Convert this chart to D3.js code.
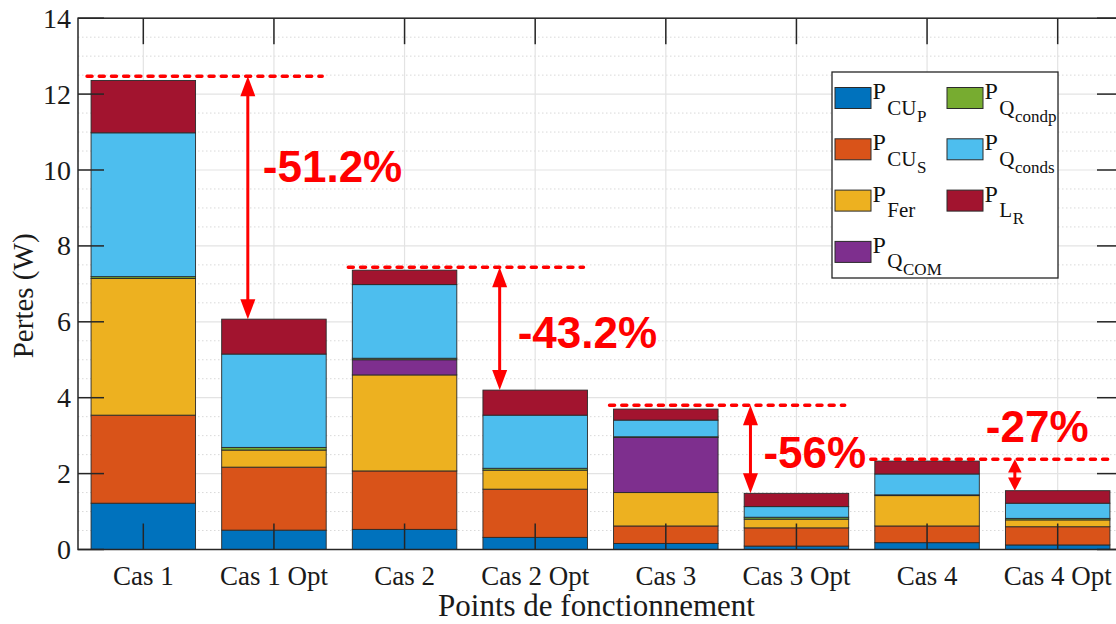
<!DOCTYPE html>
<html><head><meta charset="utf-8">
<script src="https://cdn.jsdelivr.net/npm/d3@7"></script>
<style>body{margin:0;background:#fff;overflow:hidden;} svg{display:block;}</style>
</head><body><svg id="chart" width="1116" height="624"></svg>
<script>
// ---------- DATA ----------
const categories = ["Cas 1","Cas 1 Opt","Cas 2","Cas 2 Opt","Cas 3","Cas 3 Opt","Cas 4","Cas 4 Opt"];
const P_CUp    = [1.22,0.51,0.53,0.32,0.16,0.09,0.18,0.12];
const P_CUs    = [2.32,1.66,1.54,1.27,0.46,0.48,0.44,0.48];
const P_Fer    = [3.60,0.45,2.53,0.50,0.88,0.23,0.80,0.18];
const P_QCOM   = [0.00,0.00,0.40,0.00,1.45,0.00,0.00,0.00];
const P_Qcondp = [0.05,0.07,0.04,0.05,0.02,0.05,0.02,0.04];
const P_Qconds = [3.79,2.46,1.94,1.40,0.44,0.28,0.55,0.40];
const P_LR     = [1.38,0.92,0.38,0.66,0.29,0.35,0.34,0.33];
const yTicks = [0,2,4,6,8,10,12,14];

// Reduction annotations
const annotFrom   = ["Cas 1","Cas 2","Cas 3","Cas 4"];
const annotTo     = ["Cas 1 Opt","Cas 2 Opt","Cas 3 Opt","Cas 4 Opt"];
const annotRef    = [12.47,7.44,3.80,2.38];
const annotLabels = ["-51.2%","-43.2%","-56%","-27%"];
const annotLabelY = [9.68,5.31,2.15,2.83];

// ---------- SERIES ----------
const series = [
  {key:"CUp",    values:P_CUp,    color:"#0072BD", sub:"CU",  subsub:"P"},
  {key:"CUs",    values:P_CUs,    color:"#D95319", sub:"CU",  subsub:"S"},
  {key:"Fer",    values:P_Fer,    color:"#EDB120", sub:"Fer", subsub:""},
  {key:"QCOM",   values:P_QCOM,   color:"#7E2F8E", sub:"Q",   subsub:"COM"},
  {key:"Qcondp", values:P_Qcondp, color:"#77AC30", sub:"Q",   subsub:"condp"},
  {key:"Qconds", values:P_Qconds, color:"#4DBEEE", sub:"Q",   subsub:"conds"},
  {key:"LR",     values:P_LR,     color:"#A2142F", sub:"L",   subsub:"R"}
];
const table = categories.map((c,i)=>{const o={cat:c}; series.forEach(s=>o[s.key]=s.values[i]); return o;});
const totals = categories.map((c,i)=>d3.sum(series,s=>s.values[i]));

// ---------- LAYOUT ----------
const L=78, R=1123, T=18.2, B=549.5;
const svg=d3.select("#chart");
const x=d3.scaleBand().domain(categories).range([L,R]).paddingInner(0.2).paddingOuter(0.1);
const y=d3.scaleLinear().domain([0,14]).range([B,T]);
const serif="'Liberation Serif','Times New Roman',serif";
const sans="'Liberation Sans',Arial,sans-serif";
const axisCol="#262626";

// minor grid (dotted)
const minor=d3.range(0,14.01,0.5).filter(v=>v%2!==0);
svg.append("g").selectAll("line").data(minor).join("line")
  .attr("x1",L).attr("x2",R).attr("y1",d=>y(d)).attr("y2",d=>y(d))
  .attr("stroke","#d9d9d9").attr("stroke-width",1).attr("stroke-dasharray","1.5,2.5");
// major grid
svg.append("g").selectAll("line").data(yTicks).join("line")
  .attr("x1",L).attr("x2",R).attr("y1",d=>y(d)).attr("y2",d=>y(d))
  .attr("stroke","#e3e3e3").attr("stroke-width",1.2);
svg.append("g").selectAll("line").data(categories).join("line")
  .attr("x1",d=>x(d)+x.bandwidth()/2).attr("x2",d=>x(d)+x.bandwidth()/2).attr("y1",T).attr("y2",B)
  .attr("stroke","#e3e3e3").attr("stroke-width",1.2);

// bars
const stack=d3.stack().keys(series.map(s=>s.key));
const stacked=stack(table);
svg.append("g").selectAll("g").data(stacked).join("g")
  .attr("fill",(d,i)=>series[i].color)
  .selectAll("rect").data(d=>d).join("rect")
  .attr("x",d=>x(d.data.cat)).attr("width",x.bandwidth())
  .attr("y",d=>y(d[1])).attr("height",d=>Math.max(0,y(d[0])-y(d[1])))
  .attr("stroke","#2a2a2a").attr("stroke-width",0.9);

// axes box + ticks
const ax=svg.append("g").attr("stroke",axisCol).attr("stroke-width",1.5);
ax.append("rect").attr("x",L).attr("y",T).attr("width",R-L).attr("height",B-T).attr("fill","none");
const tl=26;
yTicks.forEach(v=>{
  ax.append("line").attr("x1",L).attr("x2",L+tl).attr("y1",y(v)).attr("y2",y(v));
  ax.append("line").attr("x1",R-tl).attr("x2",R).attr("y1",y(v)).attr("y2",y(v));
});
categories.forEach(c=>{
  const cx=x(c)+x.bandwidth()/2;
  ax.append("line").attr("x1",cx).attr("x2",cx).attr("y1",B).attr("y2",B-tl);
  ax.append("line").attr("x1",cx).attr("x2",cx).attr("y1",T).attr("y2",T+tl);
});
// tick labels
svg.append("g").selectAll("text").data(yTicks).join("text")
  .attr("x",L-7).attr("y",d=>y(d)).attr("dy","0.34em").attr("text-anchor","end")
  .attr("font-family",serif).attr("font-size",28).attr("fill","#1a1a1a").text(d=>d);
svg.append("g").selectAll("text").data(categories).join("text")
  .attr("x",d=>x(d)+x.bandwidth()/2).attr("y",B+35).attr("text-anchor","middle")
  .attr("font-family",serif).attr("font-size",27).attr("fill","#1a1a1a").text(d=>d);
// axis titles
svg.append("text").attr("x",(L+R)/2-4).attr("y",616).attr("text-anchor","middle")
  .attr("font-family",serif).attr("font-size",31).attr("fill","#1a1a1a").text("Points de fonctionnement");
svg.append("text").attr("transform",`translate(33,${(T+B)/2+12}) rotate(-90)`).attr("text-anchor","middle")
  .attr("font-family",serif).attr("font-size",29).attr("fill","#1a1a1a").text("Pertes (W)");

// annotations
const red="#FF0000";
const arrowFrac=[0.25,0.16,0.06,0.09];
const labelDx=[15,18,13,-29];
const an=svg.append("g");
annotFrom.forEach((f,k)=>{
  const t=annotTo[k];
  const yr=y(annotRef[k]);
  an.append("line").attr("x1",x(f)-4).attr("x2",x(t)+x.bandwidth()-4+(k===3?8:0))
    .attr("y1",yr).attr("y2",yr).attr("stroke",red).attr("stroke-width",3.5)
    .attr("stroke-dasharray","5,7.2").attr("stroke-linecap","round");
  const iTo=categories.indexOf(t);
  const yb=y(totals[iTo]);
  const axp=x(t)+x.bandwidth()*arrowFrac[k];
  const len=yb-yr;
  const hl=Math.min(20,len*0.42), hw=Math.min(7.5,hl*0.4+1.5);
  an.append("line").attr("x1",axp).attr("x2",axp).attr("y1",yr+hl-2).attr("y2",yb-hl+2)
    .attr("stroke",red).attr("stroke-width",3);
  an.append("path").attr("d",`M${axp},${yr}L${axp-hw},${yr+hl}L${axp+hw},${yr+hl}Z`).attr("fill",red);
  an.append("path").attr("d",`M${axp},${yb}L${axp-hw},${yb-hl}L${axp+hw},${yb-hl}Z`).attr("fill",red);
  an.append("text").attr("x",axp+labelDx[k]).attr("y",y(annotLabelY[k]))
    .attr("font-family",sans).attr("font-weight","bold").attr("font-size",44).attr("fill",red)
    .text(annotLabels[k]);
});

// legend
const lg=svg.append("g");
lg.append("rect").attr("x",832).attr("y",72).attr("width",226).attr("height",206)
  .attr("fill","#fff").attr("stroke",axisCol).attr("stroke-width",1.3);
const legendOrder=["CUp","CUs","Fer","QCOM","Qcondp","Qconds","LR"];
legendOrder.forEach((key,i)=>{
  const s=series.find(d=>d.key===key);
  const col=i<4?0:1, row=i<4?i:i-4;
  const sx=835+col*112, sy=87.5+row*51.3;
  lg.append("rect").attr("x",sx).attr("y",sy).attr("width",36).attr("height",21)
    .attr("fill",s.color).attr("stroke","#2a2a2a").attr("stroke-width",1);
  const tx=sx+37.5;
  const p=lg.append("text").attr("x",tx).attr("y",sy+11.5).attr("font-family",serif)
    .attr("font-size",24).attr("fill","#111").text("P");
  const pw=p.node().getComputedTextLength();
  const sb=lg.append("text").attr("x",tx+pw+1.5).attr("y",sy+27).attr("font-family",serif)
    .attr("font-size",21).attr("fill","#111").text(s.sub);
  const sw=sb.node().getComputedTextLength();
  if(s.subsub){
    lg.append("text").attr("x",tx+pw+1.5+sw+0.5).attr("y",sy+34).attr("font-family",serif)
      .attr("font-size",17).attr("fill","#111").text(s.subsub);
  }
});
</script>
</body></html>
